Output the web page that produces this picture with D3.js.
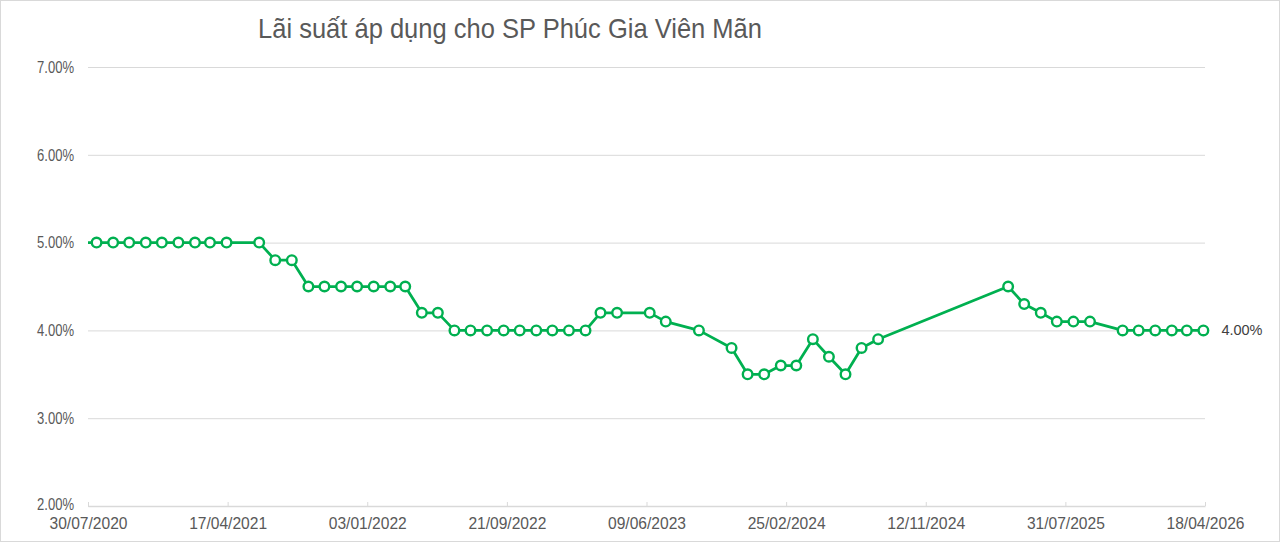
<!DOCTYPE html>
<html>
<head>
<meta charset="utf-8">
<script src="https://cdn.jsdelivr.net/npm/d3@7"></script>
<style>
  html, body { margin: 0; padding: 0; background: #fff; }
  svg { display: block; }
  text { font-family: "Liberation Sans", Arial, sans-serif; }
</style>
</head>
<body>
<svg id="chart" width="1280" height="542"></svg>
<script>
// ---- Data ----
const title = "Lãi suất áp dụng cho SP Phúc Gia Viên Mãn";
const dates = [
  "2020-07-30",
  "2020-08-15","2020-09-15","2020-10-15","2020-11-15","2020-12-15","2021-01-15","2021-02-15","2021-03-15","2021-04-15",
  "2021-06-15","2021-07-15","2021-08-15","2021-09-15","2021-10-15","2021-11-15","2021-12-15","2022-01-15","2022-02-15","2022-03-15",
  "2022-04-15","2022-05-15","2022-06-15","2022-07-15","2022-08-15","2022-09-15","2022-10-15","2022-11-15","2022-12-15","2023-01-15",
  "2023-02-15","2023-03-15","2023-04-15","2023-06-15","2023-07-15","2023-09-15","2023-11-15","2023-12-15","2024-01-15","2024-02-15",
  "2024-03-15","2024-04-15","2024-05-15","2024-06-15","2024-07-15","2024-08-15",
  "2025-04-15","2025-05-15","2025-06-15","2025-07-15","2025-08-15","2025-09-15","2025-11-15","2025-12-15","2026-01-15","2026-02-15",
  "2026-03-15","2026-04-15"
];
const rates = [
  5.0,
  5.0,5.0,5.0,5.0,5.0,5.0,5.0,5.0,5.0,
  5.0,4.8,4.8,4.5,4.5,4.5,4.5,4.5,4.5,4.5,
  4.2,4.2,4.0,4.0,4.0,4.0,4.0,4.0,4.0,4.0,
  4.0,4.2,4.2,4.2,4.1,4.0,3.8,3.5,3.5,3.6,
  3.6,3.9,3.7,3.5,3.8,3.9,
  4.5,4.3,4.2,4.1,4.1,4.1,4.0,4.0,4.0,4.0,
  4.0,4.0
];
const yTicks = [2, 3, 4, 5, 6, 7];
const xTickLabels = ["30/07/2020","17/04/2021","03/01/2022","21/09/2022","09/06/2023","25/02/2024","12/11/2024","31/07/2025","18/04/2026"];

(function () {
// ---- Layout ----
const svg = d3.select("#chart");
const W = 1280, H = 542;
const pLeft = 88, pRight = 1205, pTop = 67, pBottom = 506;
const parse = d3.timeParse("%Y-%m-%d");
const parseLbl = d3.timeParse("%d/%m/%Y");
const data = dates.map((d, i) => ({ date: parse(d), value: rates[i] }));
const tickDates = xTickLabels.map(parseLbl);

const x = d3.scaleTime().domain([tickDates[0], tickDates[tickDates.length - 1]]).range([pLeft, pRight]);
const y = d3.scaleLinear().domain([2, 7]).range([pBottom, pTop]);

const grey = "#d9d9d9";
const txt = "#595959";
const green = "#00B050";

// outer border
svg.append("rect").attr("x", 0.5).attr("y", 0.5).attr("width", W - 1).attr("height", H - 1)
  .attr("fill", "#fff").attr("stroke", grey).attr("stroke-width", 1);

// title (condensed look)
svg.append("text").attr("x", 258).attr("y", 38)
  .attr("font-size", 28).attr("fill", txt)
  .attr("textLength", 504).attr("lengthAdjust", "spacingAndGlyphs")
  .text(title);

// y axis (gridlines + labels)
const yAxis = d3.axisLeft(y).tickValues(yTicks).tickSize(-(pRight - pLeft)).tickPadding(14)
  .tickFormat(d => d3.format(".2f")(d) + "%");
const gy = svg.append("g").attr("transform", `translate(${pLeft},0)`).call(yAxis);
gy.select(".domain").remove();
gy.selectAll(".tick line").attr("stroke", grey).attr("stroke-width", 1);
gy.selectAll(".tick text").attr("fill", txt).attr("font-size", 16.5)
  .attr("textLength", 37).attr("lengthAdjust", "spacingAndGlyphs")
  .style("font-family", '"Liberation Sans", Arial, sans-serif');
// lift bottom label slightly so it clears the date labels
gy.selectAll(".tick text").filter(d => d === 2).attr("dy", "0.2em");

// x axis
const xAxis = d3.axisBottom(x).tickValues(tickDates).tickSize(0).tickPadding(11)
  .tickFormat(d3.timeFormat("%d/%m/%Y"));
const gx = svg.append("g").attr("transform", `translate(0,${pBottom})`).call(xAxis);
gx.select(".domain").attr("stroke", grey).attr("stroke-width", 1.5);
gx.selectAll(".tick text").attr("fill", txt).attr("font-size", 17)
  .attr("textLength", 78).attr("lengthAdjust", "spacingAndGlyphs")
  .style("font-family", '"Liberation Sans", Arial, sans-serif');
gx.selectAll(".tick").append("line").attr("y1", 0).attr("y2", -4).attr("stroke", grey).attr("stroke-width", 1);

// line
const line = d3.line().x(d => x(d.date)).y(d => y(d.value));
svg.append("path").datum(data).attr("d", line)
  .attr("fill", "none").attr("stroke", green).attr("stroke-width", 2.75).attr("stroke-linejoin", "round");

// markers (first point has no marker)
svg.append("g").selectAll("circle").data(data.slice(1)).join("circle")
  .attr("cx", d => x(d.date)).attr("cy", d => y(d.value)).attr("r", 4.8)
  .attr("fill", "#fff").attr("stroke", green).attr("stroke-width", 2.4);

// data label on last point
const last = data[data.length - 1];
svg.append("text").attr("x", x(last.date) + 18).attr("y", y(last.value)).attr("dy", "0.35em")
  .attr("font-size", 14.5).attr("fill", "#404040")
  .text(d3.format(".2f")(last.value) + "%");
})();
</script>
</body>
</html>
